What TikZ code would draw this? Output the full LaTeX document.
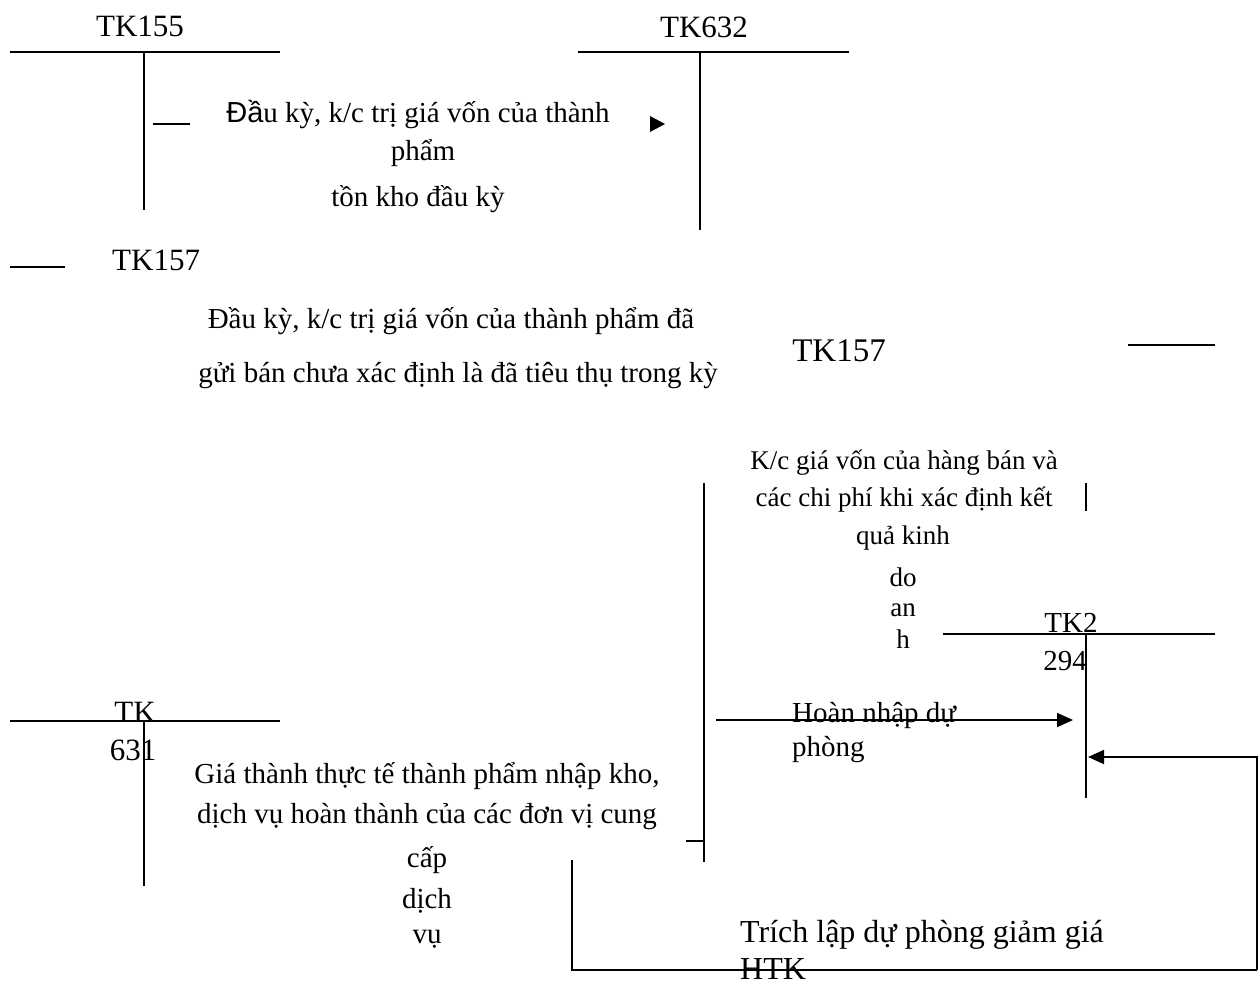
\documentclass[tikz,border=0pt]{standalone}
\usepackage{fontspec}
\setmainfont{Liberation Serif}
\newfontfamily\sansvn{Liberation Sans}
\usetikzlibrary{arrows.meta}
\begin{document}
\begin{tikzpicture}[x=1pt,y=-1pt,
  ln/.style={line width=1.8pt},
  arr/.style={line width=1.8pt,-{Triangle[length=16pt,width=14pt]}},
  lbl/.style={inner sep=0pt,anchor=base,font=\fontsize{31}{36}\selectfont},
  body/.style={inner sep=0pt,anchor=base,font=\fontsize{29}{34}\selectfont},
  smalltxt/.style={inner sep=0pt,anchor=base,font=\fontsize{27}{32}\selectfont},
  bigtxt/.style={inner sep=0pt,anchor=base,font=\fontsize{33}{38}\selectfont}]
\useasboundingbox (0,0) rectangle (1260,985);

% ---- TK155
\node[lbl] (tk155) at (140,36) {TK155};
\coordinate (a155L) at (10,52); \coordinate (a155R) at (280,52);
\coordinate (a155T) at (144,52); \coordinate (a155B) at (144,210);
\draw[ln] (a155L) -- (a155R);
\draw[ln] (a155T) -- (a155B);
\coordinate (d1s) at (153,124); \coordinate (d1e) at (190,124);
\draw[ln] (d1s) -- (d1e);

% ---- TK632
\node[lbl] (tk632) at (704,37) {TK632};
\coordinate (a632L) at (578,52); \coordinate (a632R) at (849,52);
\coordinate (a632T) at (700,52); \coordinate (a632B) at (700,230);
\draw[ln] (a632L) -- (a632R);
\draw[ln] (a632T) -- (a632B);
\fill (650,116) -- (665,124) -- (650,132) -- cycle;

\node[body] (t1a) at (418,122) {{\sansvn Đầ}u kỳ, k/c trị giá vốn của thành};
\node[body] (t1b) at (423,160) {phẩm};
\node[body] (t1c) at (418,206) {tồn kho đầu kỳ};

% ---- TK157 (left)
\coordinate (u157s) at (10,267); \coordinate (u157e) at (65,267);
\draw[ln] (u157s) -- (u157e);
\node[lbl,anchor=base west] (tk157a) at (112,270) {TK157};
\node[body] (t2a) at (451,328) {Đầu kỳ, k/c trị giá vốn của thành phẩm đã};
\node[body] (t2b) at (458,382) {gửi bán chưa xác định là đã tiêu thụ trong kỳ};

% ---- TK157 (right)
\node[bigtxt] (tk157b) at (839,361) {TK157};
\coordinate (r157s) at (1128,345); \coordinate (r157e) at (1215,345);
\draw[ln] (r157s) -- (r157e);

% ---- K/c block
\node[smalltxt] (t3a) at (904,469) {K/c giá vốn của hàng bán và};
\node[smalltxt] (t3b) at (904,506) {các chi phí khi xác định kết};
\node[smalltxt] (t3c) at (903,544) {quả kinh};
\node[smalltxt] (t3d) at (903,586) {do};
\node[smalltxt] (t3e) at (903,616) {an};
\node[smalltxt] (t3f) at (903,648) {h};
\coordinate (sv1) at (1086,483); \coordinate (sv2) at (1086,511);
\draw[ln] (sv1) -- (sv2);

% big vertical
\coordinate (bvT) at (704,483); \coordinate (bvB) at (704,862);
\coordinate (bvK) at (686,841); \coordinate (bvJ) at (704,841);
\draw[ln] (bvT) -- (bvB);
\draw[ln] (bvK) -- (bvJ);

% ---- TK2294
\coordinate (a229L) at (943,634); \coordinate (a229R) at (1215,634);
\coordinate (a229T) at (1086,634); \coordinate (a229B) at (1086,798);
\draw[ln] (a229L) -- (a229R);
\draw[ln] (a229T) -- (a229B);
\node[body] (tk2) at (1071,632) {TK2};
\node[body] (n294) at (1065,670) {294};

% Hoàn nhập dự phòng
\coordinate (hnS) at (716,720); \coordinate (hnE) at (1073,720);
\draw[arr] (hnS) -- (hnE);
\node[body,anchor=base west] (hn1) at (792,722) {Hoàn nhập dự};
\node[body,anchor=base west] (hn2) at (792,756) {phòng};

% ---- TK631
\coordinate (a631L) at (10,721); \coordinate (a631R) at (280,721);
\coordinate (a631T) at (144,721); \coordinate (a631B) at (144,886);
\draw[ln] (a631L) -- (a631R);
\draw[ln] (a631T) -- (a631B);
\node[lbl] (tk631a) at (135,722) {TK};
\node[lbl] (tk631b) at (133,760) {631};

\node[body] (t4a) at (427,783) {Giá thành thực tế thành phẩm nhập kho,};
\node[body] (t4b) at (427,823) {dịch vụ hoàn thành của các đơn vị cung};
\node[body] (t4c) at (427,867) {cấp};
\node[body] (t4d) at (427,908) {dịch};
\node[body] (t4e) at (427,943) {vụ};

% ---- Trích lập
\coordinate (tlA) at (572,860); \coordinate (tlB) at (572,970);
\coordinate (tlC) at (1257,970); \coordinate (tlD) at (1257,757);
\coordinate (tlE) at (1088,757);
\draw[line width=1.8pt] (tlA) -- (tlB) -- (tlC);
\draw[arr] (tlC) -- (tlD) -- (tlE);
\node[bigtxt,anchor=base west,font=\fontsize{32}{38}\selectfont] (tl1) at (740,942) {Trích lập dự phòng giảm giá};
\node[bigtxt,anchor=base west,font=\fontsize{32}{38}\selectfont] (tl2) at (740,979) {HTK};
\end{tikzpicture}
\end{document}
